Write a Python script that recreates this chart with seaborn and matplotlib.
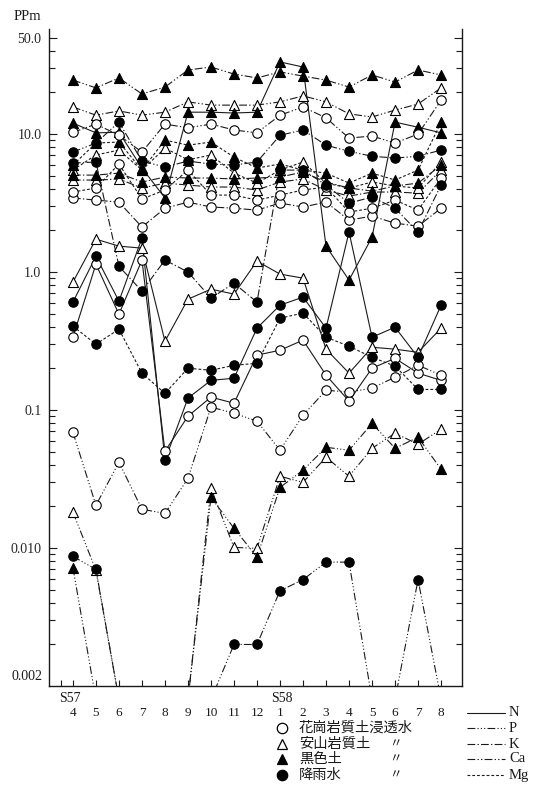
import numpy as np
import pandas as pd
import seaborn as sns
import matplotlib
matplotlib.use("Agg")
from matplotlib import pyplot as plt
from matplotlib.lines import Line2D
from matplotlib.ticker import FixedLocator, FixedFormatter, LogLocator, NullFormatter

# sampling months, S57 April .. S58 August
months = ["4", "5", "6", "7", "8", "9", "10", "11", "12",
          "1", "2", "3", "4", "5", "6", "7", "8"]

# "not detected": sits below the axis so the line runs off the bottom edge
ND = 0.0008

# granite soil leachate (open circle), ppm
granite_N = [0.337, 1.14, 0.495, 1.22, 0.0502, 0.0902, 0.124, 0.112, 0.250,
             0.271, 0.321, 0.179, 0.116, 0.201, 0.237, 0.185, 0.164]
granite_P = [0.069, 0.0204, 0.0418, 0.0191, 0.0178, 0.032, 0.105, 0.0948, 0.083,
             0.0511, 0.0917, 0.139, 0.135, 0.144, 0.173, 0.211, 0.179]
granite_K = [3.44, 3.32, 3.21, 2.12, 2.9, 3.21, 2.96, 2.9, 2.81,
             3.16, 2.96, 3.21, 2.38, 2.54, 2.26, 2.15, 2.9]
granite_Ca = [10.3, 11.8, 9.8, 7.4, 11.8, 11.1, 11.8, 10.7, 10.2,
              13.7, 15.7, 13.1, 9.35, 9.67, 8.6, 10.0, 17.6]
granite_Mg = [3.8, 4.06, 6.06, 3.38, 3.93, 5.48, 3.61, 3.61, 3.32,
              3.61, 3.93, 4.13, 2.72, 2.9, 3.32, 2.81, 4.8]

# andesite soil (open triangle)
andesite_N = [0.845, 1.73, 1.54, 1.49, 0.315, 0.636, 0.751, 0.692, 1.20,
              0.966, 0.903, 0.276, 0.185, 0.285, 0.276, 0.262, 0.392]
andesite_P = [0.0182, 0.0069, ND, ND, ND, ND, 0.0271, 0.0101, 0.00995,
              0.0331, 0.0299, 0.0455, 0.0331, 0.0528, 0.0679, 0.0565, 0.0726]
andesite_K = [4.64, 4.64, 4.72, 4.06, 4.41, 4.27, 4.13, 4.13, 3.93,
              4.49, 4.72, 3.93, 3.55, 3.8, 3.8, 3.73, 5.48]
andesite_Ca = [15.7, 13.7, 14.7, 13.7, 14.4, 17.1, 16.2, 16.2, 16.2,
               17.1, 18.9, 17.1, 14.0, 13.3, 14.9, 16.5, 21.6]
andesite_Mg = [5.48, 7.05, 7.65, 5.48, 7.9, 6.5, 7.05, 5.21, 4.41,
               5.48, 6.27, 4.41, 4.06, 4.49, 4.2, 4.06, 6.27]

# black soil (filled triangle)
black_N = [12.0, 10.2, 10.3, 5.67, 3.44, 14.4, 14.4, 14.2, 14.4,
           33.3, 30.6, 1.54, 0.874, 1.79, 12.2, 11.2, 10.2]
black_P = [0.0072, ND, ND, ND, ND, ND, 0.0233, 0.0139, 0.0086,
           0.0275, 0.0366, 0.0537, 0.0511, 0.080, 0.0528, 0.0635, 0.0372]
black_K = [5.04, 5.04, 5.21, 4.49, 4.88, 4.8, 4.8, 4.72, 4.8,
           4.88, 5.3, 4.49, 4.06, 3.86, 4.2, 4.41, 5.96]
black_Ca = [24.6, 21.6, 25.5, 19.5, 21.9, 29.1, 30.6, 27.2, 25.5,
            28.2, 26.3, 24.6, 21.9, 26.8, 23.8, 29.1, 26.8]
black_Mg = [5.96, 8.6, 8.75, 5.48, 9.05, 8.3, 8.75, 6.8, 5.67,
            6.06, 5.48, 5.21, 4.41, 5.21, 4.64, 5.48, 12.2]

# rain water (filled circle)
rain_N = [0.605, 1.30, 0.615, 1.76, 0.0433, 0.122, 0.164, 0.170, 0.392,
          0.575, 0.658, 0.392, 1.95, 0.337, 0.398, 0.241, 0.575]
rain_P = [0.0087, 0.0070, ND, ND, ND, ND, ND, 0.0020, 0.0020,
          0.0049, 0.0059, 0.0079, 0.0079, ND, ND, 0.0059, ND]
rain_K = [6.16, 6.27, 1.10, 0.727, 1.22, 1.0, 0.647, 0.83, 0.605,
          5.48, 5.48, 4.27, 3.16, 3.49, 2.9, 1.95, 4.27]
rain_Ca = [7.4, 8.6, 12.2, 6.37, 5.76, 6.37, 6.06, 5.96, 6.27,
           9.8, 10.7, 8.3, 7.5, 6.9, 6.7, 6.9, 7.65]
rain_Mg = [0.405, 0.300, 0.385, 0.185, 0.132, 0.201, 0.194, 0.211, 0.218,
           0.463, 0.504, 0.337, 0.290, 0.241, 0.208, 0.141, 0.141]

elements = ["N", "P", "K", "Ca", "Mg"]
soil_names = ["granite", "andesite", "black", "rain"]
soil_labels = ["花崗岩質土浸透水", "安山岩質土", "黒色土", "降雨水"]

ytick_vals = [0.01, 0.1, 1, 10, 50]
ytick_labels = ["0.010", "0.1", "1.0", "10.0", "50.0"]

W, H = 533, 791


def fx(px):
    return px / W


def fy(py):
    return 1 - py / H


def main():
    sns.set_style("ticks")
    plt.rcParams["font.family"] = ["Liberation Serif", "Noto Sans CJK JP", "DejaVu Sans"]

    table = {
        "granite": [granite_N, granite_P, granite_K, granite_Ca, granite_Mg],
        "andesite": [andesite_N, andesite_P, andesite_K, andesite_Ca, andesite_Mg],
        "black": [black_N, black_P, black_K, black_Ca, black_Mg],
        "rain": [rain_N, rain_P, rain_K, rain_Ca, rain_Mg],
    }
    rows = []
    for soil in soil_names:
        for el, vals in zip(elements, table[soil]):
            for i, v in enumerate(vals):
                rows.append({"idx": i, "ppm": v, "soil": soil, "element": el})
    df = pd.DataFrame(rows)

    # line style per element, marker per soil
    dash = {"N": "-",
            "P": (0, (7, 2, 1, 2, 1, 2, 1, 2)),
            "K": (0, (7, 2, 1.2, 2)),
            "Ca": (0, (7, 2, 1.2, 2, 1.2, 2)),
            "Mg": (0, (2.5, 1.8))}
    marker = {"granite": ("o", "white"), "andesite": ("^", "white"),
              "black": ("^", "black"), "rain": ("o", "black")}

    fig = plt.figure(figsize=(W / 100, H / 100), dpi=100)
    ax = fig.add_axes([fx(49), fy(686), fx(462) - fx(49), fy(29) - fy(686)])
    ax.set_yscale("log")
    ymin, ymax = 0.001, 57.7
    ax.set_ylim(ymin, ymax)
    ax.set_xlim(-1.04, 16.91)

    ink = "#1a1a1a"
    for (soil, el), grp in df.groupby(["soil", "element"]):
        sns.lineplot(data=grp, x="idx", y="ppm", ax=ax, color=ink, linewidth=0.8,
                     linestyle=dash[el], errorbar=None, legend=False, zorder=2)

    shown = df[df["ppm"] >= ymin]
    for soil, grp in shown.groupby("soil"):
        m, fill = marker[soil]
        sns.scatterplot(data=grp, x="idx", y="ppm", ax=ax, marker=m,
                        s=46 if m == "o" else 52, color=fill, edgecolor="black",
                        linewidth=0.8, legend=False, zorder=3)

    # axes look
    ax.spines["top"].set_visible(False)
    for s in ["left", "right", "bottom"]:
        ax.spines[s].set_linewidth(1.0)
        ax.spines[s].set_color(ink)
    ax.set_xlabel("")
    ax.set_ylabel("")

    ax.yaxis.set_major_locator(FixedLocator(ytick_vals))
    ax.yaxis.set_major_formatter(FixedFormatter(ytick_labels))
    ax.yaxis.set_minor_locator(LogLocator(base=10, subs=np.arange(2, 10), numticks=30))
    ax.yaxis.set_minor_formatter(NullFormatter())
    ax.tick_params(axis="y", which="both", direction="in", left=True, right=True,
                   labelright=False, width=0.8, color=ink, labelsize=10, pad=5.5)
    ax.tick_params(axis="y", which="major", length=6)
    ax.tick_params(axis="y", which="minor", length=4.5)

    ax.set_xticks(np.arange(len(months)))
    ax.set_xticks([-0.5], minor=True)
    ax.tick_params(axis="x", which="both", direction="in", length=4.5, width=0.8,
                   color=ink, labelbottom=False, top=False)

    # month labels under the axis
    for i, m in enumerate(months):
        ax.text(i, (686 - 713) / 657, m, transform=ax.get_xaxis_transform(),
                ha="center", va="center", fontsize=9.5, color=ink)

    fig.text(fx(70), fy(698), "S57", ha="center", va="center", fontsize=10, color=ink)
    fig.text(fx(282), fy(698), "S58", ha="center", va="center", fontsize=10, color=ink)
    fig.text(fx(42), fy(677), "0.002", ha="right", va="center", fontsize=10, color=ink)
    fig.text(fx(14), fy(16), "PPm", ha="left", va="center", fontsize=10.5, color=ink)

    # soil legend (markers)
    soil_rows = [728, 744, 759, 775]
    for soil, label, y in zip(soil_names, soil_labels, soil_rows):
        m, fill = marker[soil]
        fig.add_artist(Line2D([fx(282)], [fy(y)], marker=m, markersize=7.5,
                              markerfacecolor=fill, markeredgecolor="black",
                              markeredgewidth=0.9, linestyle="none",
                              transform=fig.transFigure))
        fig.text(fx(299), fy(y), label, ha="left", va="center", fontsize=10.3,
                 family=["Noto Sans CJK JP", "DejaVu Sans"], color=ink)
        if soil != "granite":
            fig.text(fx(395), fy(y), "〃", ha="center", va="center", fontsize=9,
                     family=["Noto Sans CJK JP", "DejaVu Sans"], color=ink)

    # element legend (line styles)
    el_rows = [713, 728, 744, 759, 775]
    for el, y in zip(elements, el_rows):
        fig.add_artist(Line2D([fx(467), fx(505)], [fy(y), fy(y)], color=ink,
                              linewidth=0.8, linestyle=dash[el],
                              transform=fig.transFigure))
        fig.text(fx(509), fy(y), el, ha="left", va="center", fontsize=10.5, color=ink)

    fig.savefig("out.png", dpi=100)


main()
